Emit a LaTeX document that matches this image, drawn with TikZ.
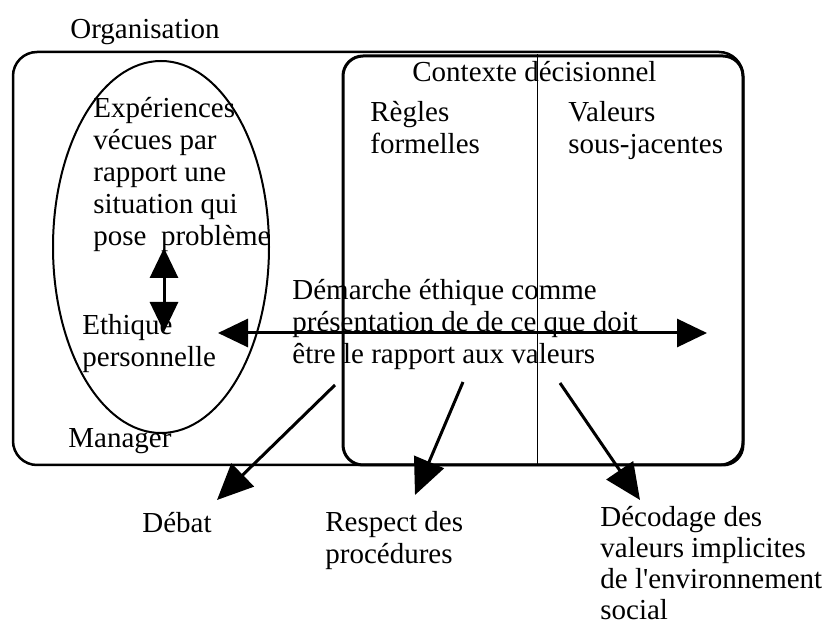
\documentclass[tikz,border=0pt]{standalone}
\usepackage{fontspec}
\setmainfont{Liberation Serif}
\usetikzlibrary{arrows.meta,shapes.geometric}
\begin{document}
\begin{tikzpicture}[x=0.5pt,y=-0.5pt,
  txt/.style={inner sep=0pt, anchor=base west, align=left,
    font=\fontsize{14.5}{16}\selectfont},
  bigarrow/.style={line width=1.5pt, -{Triangle[length=18pt,width=16pt]}},
  dblarrow/.style={line width=1.5pt,
    {Triangle[length=15pt,width=14pt]}-{Triangle[length=15pt,width=14pt]}},
  frame/.style={draw, inner sep=0pt},
]
\useasboundingbox (0,0) rectangle (831,625);

% organisation and decision context frames
\node[frame, line width=1.25pt, rounded corners=12pt,
  minimum width=365pt, minimum height=206.5pt] (org) at (378,258.5) {};
\node[frame, line width=1.5pt, rounded corners=10pt,
  minimum width=200pt, minimum height=204.5pt] (ctx) at (543,260.5) {};
\coordinate (divx) at (537,0);
\draw[line width=0.5pt] (divx |- ctx.north) -- (divx |- ctx.south);

% manager ellipse
\node[frame, ellipse, line width=1pt,
  minimum width=108pt, minimum height=186pt] (mgr) at (161,247) {};

% labels (multi-line nodes are placed by the baseline of their last line)
\node[txt] (orglbl) at (70,39) {Organisation};
\node[txt] (ctxlbl) at (412,82) {Contexte décisionnel};
\node[txt] (regles) at (370,154) {Règles\\formelles};
\node[txt] (valeurs) at (568,154) {Valeurs\\sous-jacentes};
\node[txt] (exp) at (93,246) {Expériences\\vécues par\\rapport une\\situation qui\\pose\ \ problème};
\node[txt] (ethique) at (82,367) {Ethique\\personnelle};
\node[txt] (mgrlbl) at (68,448) {Manager};
\node[txt] (demarche) at (292,364) {Démarche éthique comme\\présentation de de ce que doit\\être le rapport aux valeurs};
\node[txt] (debat) at (142,533) {Débat};
\node[txt] (respect) at (325,564) {Respect des\\procédures};
\node[txt, font=\fontsize{14.5}{15.6}\selectfont] (decodage) at (600,620) {Décodage des\\valeurs implicites\\de l\textquotesingle environnement\\social};

% connector end points
\coordinate (vtop) at (164,248);
\coordinate (vbot) at (164,332);
\coordinate (hleft) at (218,333);
\coordinate (hright) at (707,333);
\coordinate (dbstart) at (335,385);
\coordinate (dbtip) at (217,500);
\coordinate (rpstart) at (463,382);
\coordinate (rptip) at (415,495);
\coordinate (dcstart) at (560,383);
\coordinate (dctip) at (640,500);

% arrows
\draw[dblarrow] (vtop) -- (vbot);
\draw[dblarrow] (hleft) -- (hright);
\draw[bigarrow] (dbstart) -- (dbtip);
\draw[bigarrow] (rpstart) -- (rptip);
\draw[bigarrow] (dcstart) -- (dctip);
\end{tikzpicture}
\end{document}
